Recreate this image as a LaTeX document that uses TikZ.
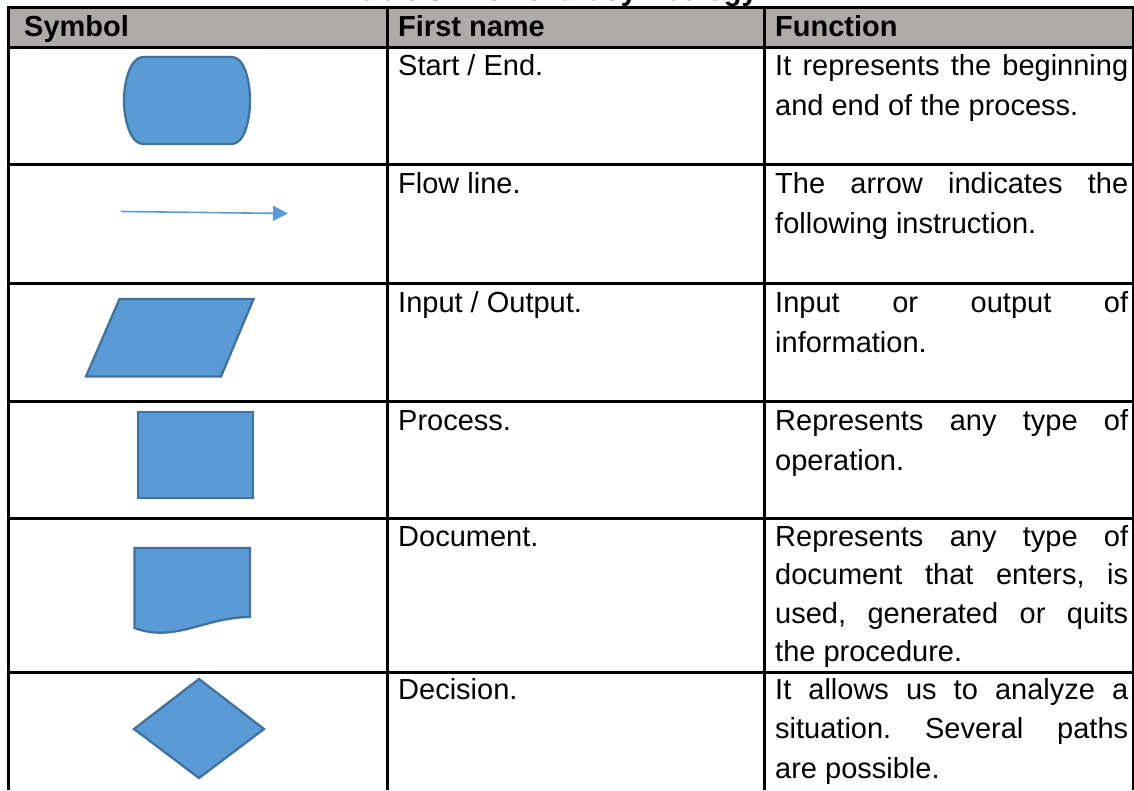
\documentclass[tikz,border=0pt]{standalone}
\usepackage{fontspec}
\setmainfont{Liberation Sans}
\usetikzlibrary{arrows.meta}
\definecolor{shapefill}{HTML}{5B9BD5}
\definecolor{shapeline}{HTML}{41719C}
\definecolor{headgray}{HTML}{AEAAAA}
\newcommand{\jline}[1]{\makebox[353pt][s]{#1}}
\frenchspacing
\begin{document}
\begin{tikzpicture}[x=1pt,y=-1pt,
  symbolshape/.style={fill=shapefill,draw=shapeline,line width=2.3pt,line join=round},
  rulethick/.style={draw=black,line width=3pt},
  celltext/.style={anchor=base west,inner sep=0pt,font=\fontsize{29}{40}\selectfont},
  headtext/.style={anchor=base west,inner sep=0pt,font=\fontsize{29}{40}\selectfont\bfseries}]
\useasboundingbox (0,0) rectangle (1134,790);
\clip (0,0) rectangle (1134,790);

% caption above the table
\node[headtext,anchor=base east] (caption) at (758,0) {Table 3. Flowchart symbology};

% header band
\fill[headgray] (8,7) rectangle (1134,47);

% horizontal rules
\foreach \y in {7,47,164,283,401,518,672}
  \draw[rulethick] (6.5,\y) -- (1134,\y);
% vertical rules
\foreach \x in {8,387,764,1133}
  \draw[rulethick] (\x,5.5) -- (\x,790);

% header texts
\node[headtext] (hsym) at (24,36.5) {Symbol};
\node[headtext] (hname) at (398,36.5) {First name};
\node[headtext] (hfun) at (775,36.5) {Function};

% row 1: terminal
\draw[symbolshape] (143,57) -- (232,57)
  .. controls (244,57) and (250,80) .. (250,100.5)
  .. controls (250,121) and (244,144) .. (232,144)
  -- (143,144)
  .. controls (131,144) and (124,121) .. (124,100.5)
  .. controls (124,80) and (131,57) .. (143,57) -- cycle;
\node[celltext] (n1) at (398,75) {Start / End.};
\node[celltext] (f1a) at (775,75) {\jline{It represents the beginning}};
\node[celltext] (f1b) at (775,115) {and end of the process.};

% row 2: flow line
\coordinate (arrowtail) at (121,211.5);
\coordinate (arrowtip) at (288,213.5);
\draw[shapefill,line width=1.6pt,-{Triangle[length=15pt,width=15pt]}] (arrowtail) -- (arrowtip);
\node[celltext] (n2) at (398,193) {Flow line.};
\node[celltext] (f2a) at (775,193) {\jline{The arrow indicates the}};
\node[celltext] (f2b) at (775,233) {following instruction.};

% row 3: input / output
\draw[symbolshape,line join=miter] (119.5,299) -- (253.5,299) -- (221,376.5) -- (86,376.5) -- cycle;
\node[celltext] (n3) at (398,312) {Input / Output.};
\node[celltext] (f3a) at (775,312) {\jline{Input or output of}};
\node[celltext] (f3b) at (775,352) {information.};

% row 4: process
\draw[symbolshape,line join=miter] (138,412) rectangle (253,498);
\node[celltext] (n4) at (398,430) {Process.};
\node[celltext] (f4a) at (775,430) {\jline{Represents any type of}};
\node[celltext] (f4b) at (775,470) {operation.};

% row 5: document
\draw[symbolshape,line join=miter] (134.5,628) -- (134.5,548) -- (250,548) -- (250,617)
  .. controls (205,617) and (175,643) .. (134.5,628) -- cycle;
\node[celltext] (n5) at (398,546) {Document.};
\node[celltext] (f5a) at (775,546) {\jline{Represents any type of}};
\node[celltext] (f5b) at (775,584.5) {\jline{document that enters, is}};
\node[celltext] (f5c) at (775,623) {\jline{used, generated or quits}};
\node[celltext] (f5d) at (775,661.5) {the procedure.};

% row 6: decision
\draw[symbolshape,line join=miter] (199,679) -- (264,729) -- (199,778) -- (134,729) -- cycle;
\node[celltext] (n6) at (398,699) {Decision.};
\node[celltext] (f6a) at (775,699) {\jline{It allows us to analyze a}};
\node[celltext] (f6b) at (775,738.5) {\jline{situation. Several paths}};
\node[celltext] (f6c) at (775,778) {are possible.};
\end{tikzpicture}
\end{document}
